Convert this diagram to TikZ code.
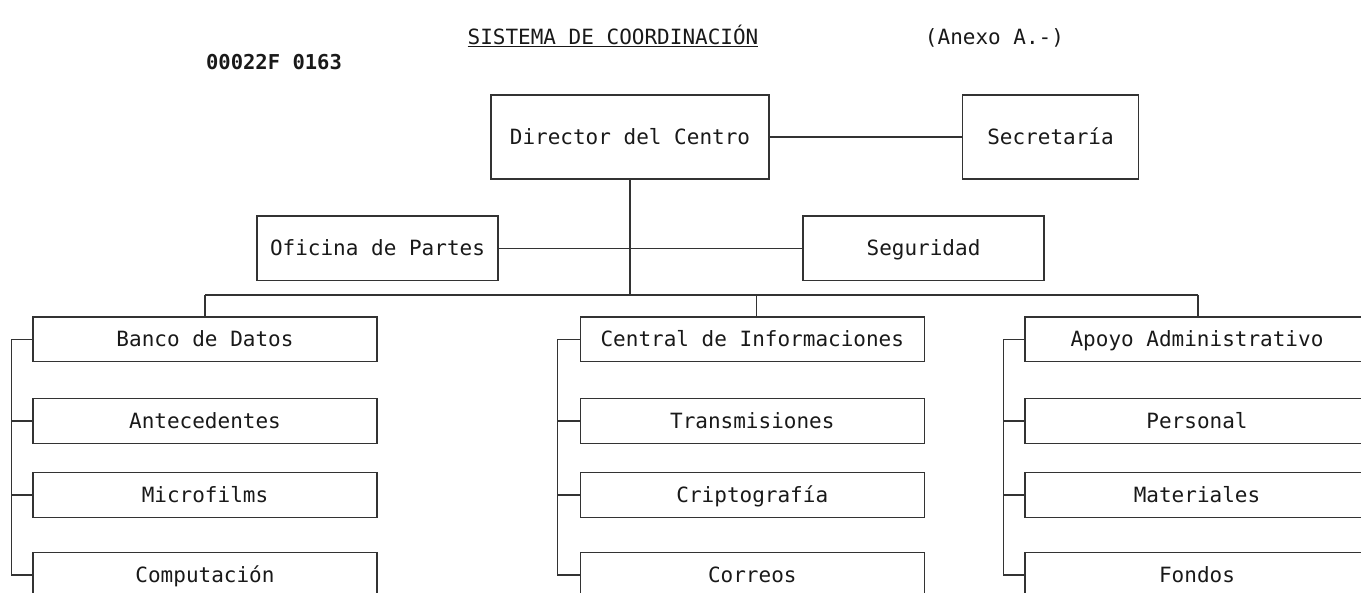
\documentclass[tikz,border=0pt]{standalone}
\usepackage{fontspec}
\setmonofont{DejaVu Sans Mono}
\begin{document}
\begin{tikzpicture}[x=1pt,y=-1pt,
  every node/.style={font=\ttfamily\fontsize{21}{24}\selectfont, text=black!90},
  box/.style={draw=black!80, line width=1.2pt, rectangle, inner sep=0pt, align=center,
    text height=15pt, text depth=0pt},
  bigbox/.style={box, minimum width=278pt, minimum height=84pt},
  midbox/.style={box, minimum width=241pt, minimum height=64.5pt},
  unitbox/.style={box, minimum width=344pt, minimum height=44.5pt},
  link/.style={draw=black!80, line width=1.2pt}]
\useasboundingbox (0,0) rectangle (1361,593);
\clip (0,0) rectangle (1361,593);
% header
\node[text height=15pt, text depth=0pt] (title) at (613,37) {\underline{SISTEMA DE COORDINACIÓN}};
\node[text height=15pt, text depth=0pt] (anexo) at (994.5,37) {(Anexo A.-)};
\node[text height=15pt, text depth=0pt, font=\ttfamily\bfseries\fontsize{20.5}{24}\selectfont] (code) at (274,62.5) {00022F 0163};
% top levels
\node[bigbox] (dir) at (630,137) {Director del Centro};
\node[box, minimum width=175.5pt, minimum height=84pt] (sec) at (1050.5,137) {Secretaría};
\node[midbox] (ofi) at (377.5,248.3) {Oficina de Partes};
\node[midbox] (seg) at (923.5,248.3) {Seguridad};
% column 1
\node[unitbox] (banco) at (205,339.2) {Banco de Datos};
\node[unitbox] (ante) at (205,421) {Antecedentes};
\node[unitbox] (micro) at (205,495) {Microfilms};
\node[unitbox] (comp) at (205,575) {Computación};
% column 2
\node[unitbox] (central) at (752.3,339.2) {Central de Informaciones};
\node[unitbox] (trans) at (752.3,421) {Transmisiones};
\node[unitbox] (cripto) at (752.3,495) {Criptografía};
\node[unitbox] (correo) at (752.3,575) {Correos};
% column 3
\node[unitbox] (apoyo) at (1197,339.2) {Apoyo Administrativo};
\node[unitbox] (pers) at (1197,421) {Personal};
\node[unitbox] (mater) at (1197,495) {Materiales};
\node[unitbox] (fondos) at (1197,575) {Fondos};
% coordinates
\coordinate (bj) at (630,295);
\coordinate (b1) at (205,295);
\coordinate (b2) at (756.7,295);
\coordinate (b3) at (1198,295);
\coordinate (s1) at (11.5,575);
\coordinate (s2) at (557.7,575);
\coordinate (s3) at (1003.3,575);
% connectors
\draw[link] (dir.east) -- (sec.west);
\draw[link] (ofi.east) -- (seg.west);
\draw[link] (dir.south) -- (bj);
\draw[link] (b1) -- (b3);
\draw[link] (b1) -- (banco.north);
\draw[link] (b2) -- (b2 |- central.north);
\draw[link] (b3) -- (b3 |- apoyo.north);
\draw[link] (banco.west) -| (s1) -- (comp.west);
\draw[link] (ante.west) -- (ante.west -| s1);
\draw[link] (micro.west) -- (micro.west -| s1);
\draw[link] (central.west) -| (s2) -- (correo.west);
\draw[link] (trans.west) -- (trans.west -| s2);
\draw[link] (cripto.west) -- (cripto.west -| s2);
\draw[link] (apoyo.west) -| (s3) -- (fondos.west);
\draw[link] (pers.west) -- (pers.west -| s3);
\draw[link] (mater.west) -- (mater.west -| s3);
\end{tikzpicture}
\end{document}
